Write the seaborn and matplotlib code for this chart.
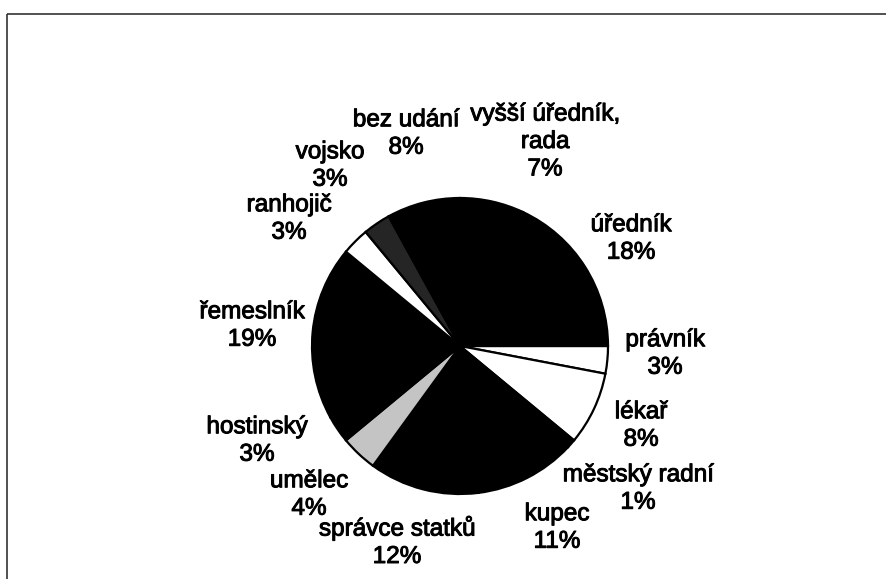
import matplotlib
matplotlib.use("Agg")
import matplotlib.pyplot as plt
import matplotlib.patheffects as pe
import seaborn as sns

# ---- data (clockwise from 3 o'clock) ----
categories = ["právník", "lékař", "městský radní", "kupec", "správce statků",
              "umělec", "hostinský", "řemeslník", "ranhojič", "vojsko",
              "bez udání", "vyšší úředník,\nrada", "úředník"]
values = [3, 8, 1, 11, 12, 4, 3, 19, 3, 3, 8, 7, 18]

# ---- styles ----
colors = ["#ffffff", "#ffffff", "#000000", "#000000", "#000000",
          "#c4c4c4", "#000000", "#000000", "#ffffff", "#252525",
          "#000000", "#000000", "#000000"]
# label centres in pixel coords (x, y from top)
label_pos = [(665, 354), (641, 426), (638, 489), (557, 528), (397, 542),
             (309, 495), (257, 441), (252, 326), (289, 219), (330, 166),
             (406, 134), (545, 142), (631, 239)]

W, H = 886, 579
sns.set_theme(style="white")
plt.rcParams['font.family'] = ['Liberation Sans', 'DejaVu Sans']

fig = plt.figure(figsize=(W / 100, H / 100), dpi=100)
ax = fig.add_axes([0, 0, 1, 1])
ax.set_xlim(0, W)
ax.set_ylim(0, H)
ax.set_aspect('equal')
ax.axis('off')

wedges, _ = ax.pie(values, colors=colors, startangle=0, counterclock=False,
                   center=(460, H - 346), radius=148,
                   wedgeprops=dict(edgecolor='black', linewidth=1.6))
ax.set_xlim(0, W)
ax.set_ylim(0, H)

for cat, v, (px, py) in zip(categories, values, label_pos):
    ax.text(px, H - py, f"{cat}\n{v}%", ha='center', va='center',
            fontsize=17.5, color='black', linespacing=1.32,
            path_effects=[pe.withStroke(linewidth=0.7, foreground='black')])

# frame lines (top and left of a box cut by the image edge)
ax.plot([7, W], [H - 14, H - 14], color='#333333', lw=1.2, solid_capstyle='butt')
ax.plot([7, 7], [H - 14, 0], color='#333333', lw=1.2, solid_capstyle='butt')

fig.savefig("out.png", dpi=100)
